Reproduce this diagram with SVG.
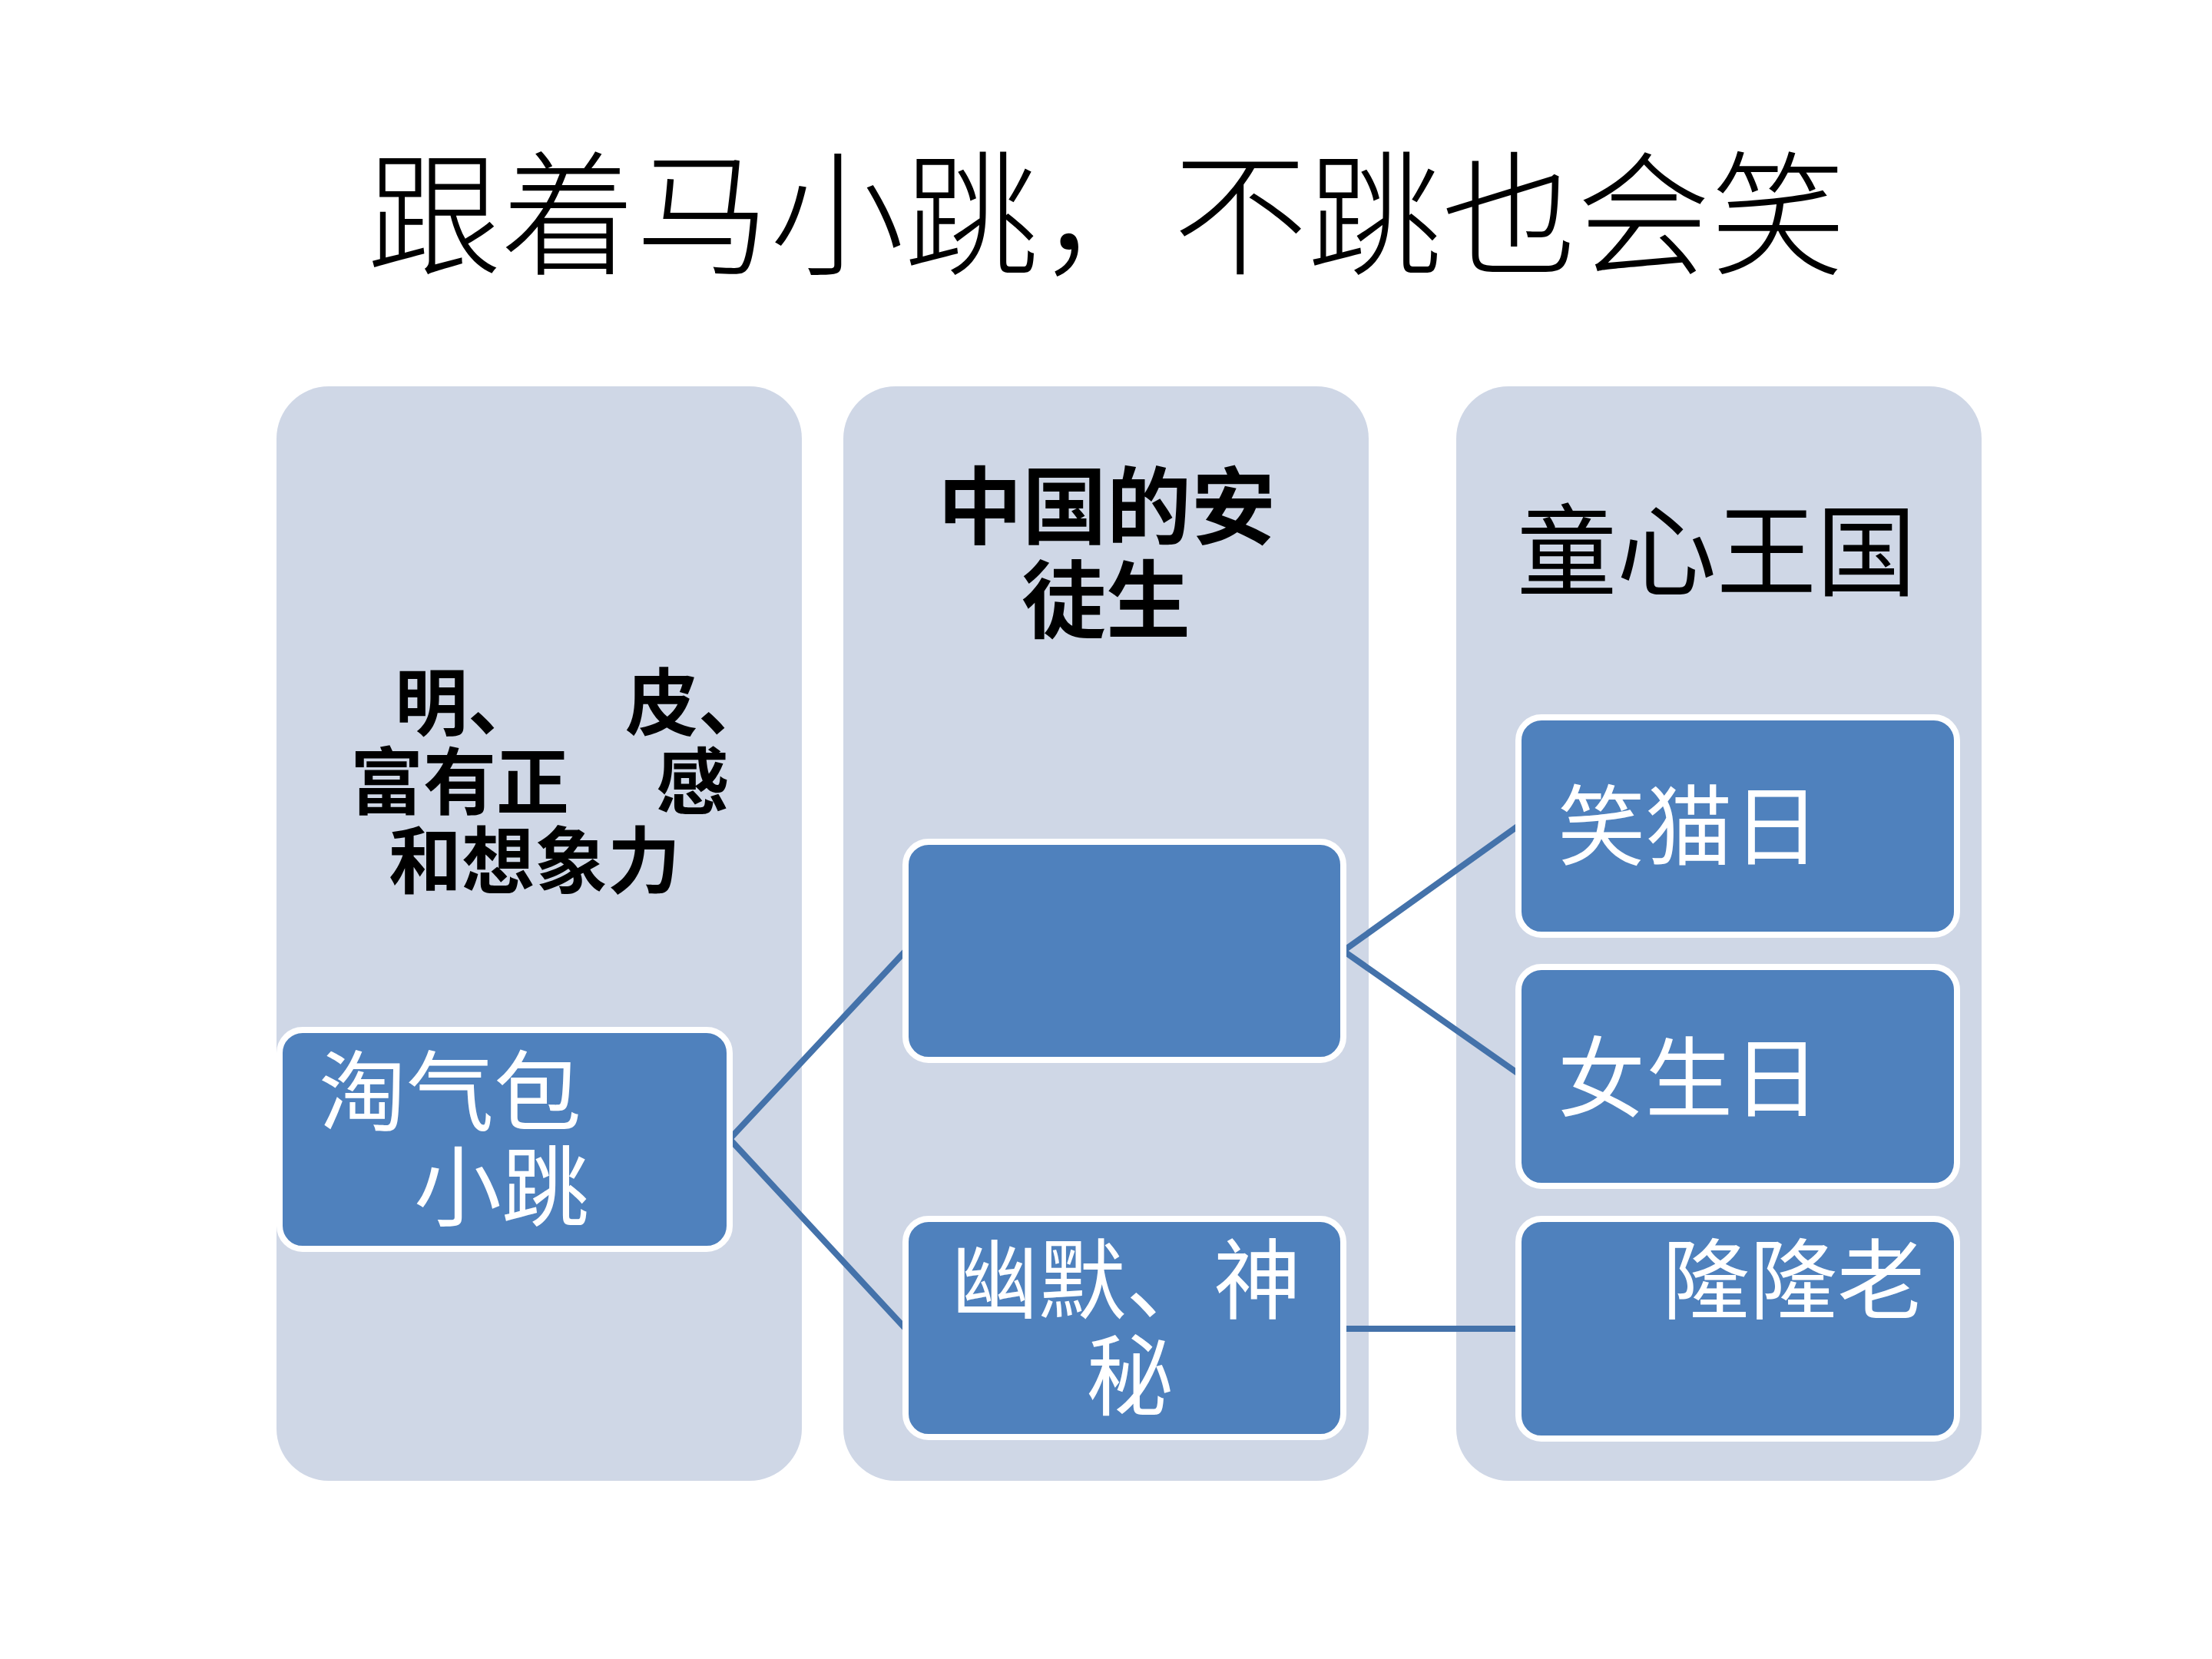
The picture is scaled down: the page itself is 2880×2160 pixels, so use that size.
<svg xmlns="http://www.w3.org/2000/svg" width="2880" height="2160" viewBox="0 0 2880 2160">
<style>
.col{fill:#CFD7E6}
.box{fill:#4F81BD;stroke:#FFFFFF;stroke-width:8}
.con{stroke:#4472AA;stroke-width:8;fill:none}
.title{font-family:"Noto Sans CJK SC",sans-serif;font-size:175px;font-weight:300;fill:#000}
.hb{font-family:"Noto Sans CJK SC",sans-serif;font-weight:700;fill:#000}
.hr{font-family:"Noto Sans CJK SC",sans-serif;font-weight:400;fill:#000}
.wt{font-family:"Noto Sans CJK SC",sans-serif;font-weight:400;fill:#FFFFFF;font-size:114px}
</style>
<rect width="2880" height="2160" fill="#FFFFFF"/>
<g id="title"><text class="title" x="1440" y="344" text-anchor="middle">跟着马小跳，不跳也会笑</text></g>
<g id="columns">
<g id="col1"><rect class="col" x="360" y="503" width="684" height="1425" rx="68"/>
<text class="hb" font-size="95"><tspan x="514" y="950">明、</tspan><tspan x="814" y="950">皮、</tspan><tspan x="456" y="1053">富有正</tspan><tspan x="854" y="1053">感</tspan><tspan x="506" y="1156">和想象力</tspan></text></g>
<g id="col2"><rect class="col" x="1098" y="503" width="684" height="1425" rx="68"/>
<text class="hb" font-size="110" text-anchor="middle"><tspan x="1441" y="700">中国的安</tspan><tspan x="1440" y="822">徒生</tspan></text></g>
<g id="col3"><rect class="col" x="1896" y="503" width="684" height="1425" rx="68"/>
<text class="hr" font-size="130" x="2235" y="765" text-anchor="middle">童心王国</text></g>
</g>
<g id="connectors">
<polyline class="con" points="1179,1238 950,1483 1179,1730"/>
<polyline class="con" points="1977,1075 1749,1238 1977,1398"/>
<line class="con" x1="1749" y1="1730" x2="1977" y2="1730"/>
</g>
<g id="node-taoqibao"><rect class="box" x="364" y="1341" width="586" height="285" rx="30"/>
<text class="wt"><tspan x="415" y="1463">淘气包</tspan><tspan x="539" y="1587">小跳</tspan></text></g>
<g id="node-mid-top"><rect class="box" x="1179" y="1096" width="570" height="284" rx="30"/></g>
<g id="node-youmo"><rect class="box" x="1179" y="1587" width="570" height="284" rx="30"/>
<text class="wt"><tspan x="1238" y="1708">幽默、神</tspan><tspan x="1414" y="1833">秘</tspan></text></g>
<g id="node-xiaomao"><rect class="box" x="1977" y="934" width="571" height="283" rx="30"/>
<text class="wt" x="2028" y="1117">笑猫日</text></g>
<g id="node-nvsheng"><rect class="box" x="1977" y="1259" width="571" height="285" rx="30"/>
<text class="wt" x="2028" y="1445">女生日</text></g>
<g id="node-longlong"><rect class="box" x="1977" y="1587" width="571" height="286" rx="30"/>
<text class="wt" x="2164" y="1708">隆隆老</text></g>
</svg>
